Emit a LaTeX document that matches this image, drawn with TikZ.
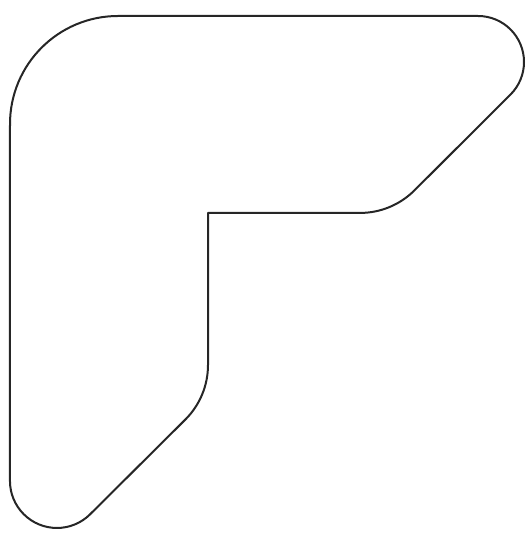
\documentclass[tikz,border=0pt]{standalone}
\usepackage{pgf,tikz}
\usetikzlibrary{shapes, arrows}
\tikzstyle{contorno} = [draw=black!85, line width=2pt, line join=round]

\begin{document}
\begin{tikzpicture}[x=1pt, y=1pt]
	\useasboundingbox (0,0) rectangle (529,543);
	\draw[contorno] (10,419) arc[start angle=180, end angle=90, radius=108]
		-- (478,527) arc[start angle=90, end angle=-45, radius=46]
		-- (414.4,352.6) arc[start angle=-45, end angle=-90, radius=77]
		-- (208,330)
		-- (208,178) arc[start angle=0, end angle=-45, radius=77]
		-- (90.2,28.8) arc[start angle=-45, end angle=-180, radius=47]
		-- cycle;
\end{tikzpicture}
\end{document}
